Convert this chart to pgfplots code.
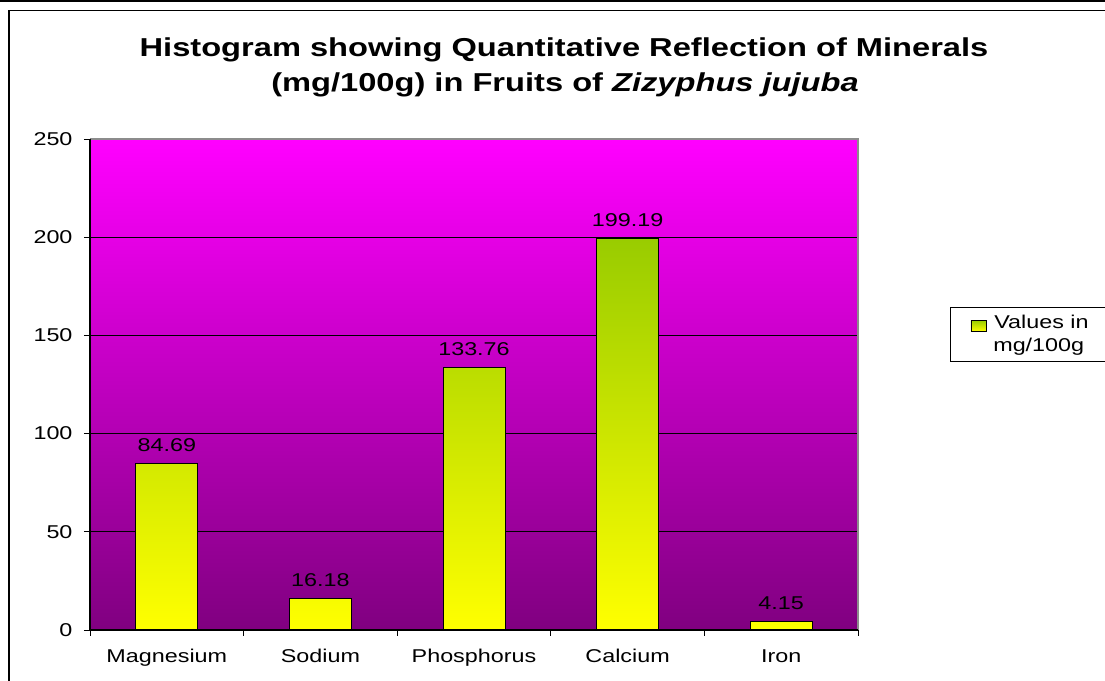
\documentclass[border=0pt]{standalone}
\usepackage{pgfplots}
\pgfplotsset{compat=1.18}
\usepackage{fontspec}
\setmainfont{Liberation Sans}[FakeStretch=1.26]
\definecolor{bgtop}{RGB}{255,0,255}
\definecolor{bgbot}{RGB}{128,0,128}
\definecolor{bargreen}{RGB}{153,204,0}
\definecolor{baryellow}{RGB}{255,255,0}
\definecolor{edgegray}{RGB}{140,140,140}
\begin{document}
\begin{tikzpicture}[x=1bp,y=1bp]
\useasboundingbox (0,0) rectangle (1105,681);
\begin{axis}[
  at={(90bp,51bp)}, anchor=south west,
  width=768bp, height=491bp, scale only axis,
  xmin=-0.5, xmax=4.5, ymin=0, ymax=250,
  clip=false,
  ybar, bar width=62bp,
  ytick={0,50,...,250},
  xtick={0,1,2,3,4},
  xticklabels={Magnesium,Sodium,Phosphorus,Calcium,Iron},
  minor xtick={-0.5,0.5,...,4.5},
  major x tick style={draw=none},
  tick align=outside,
  major tick length=6bp, minor tick length=6bp,
  every tick/.style={black, line width=0.9bp},
  tick pos=left,
  axis line style={draw=none},
  ymajorgrids=true,
  grid style={black, line width=0.8bp},
  axis background/.style={top color=bgtop, bottom color=bgbot},
  yticklabel style={font=\fontsize{18.6}{22}\selectfont},
  yticklabel shift=8bp,
  xticklabel style={font=\fontsize{18.6}{22}\selectfont, yshift=-10bp},
  /pgf/number format/assume math mode=true,
  nodes near coords,
  nodes near coords style={font=\fontsize{18.6}{22}\selectfont, anchor=base, yshift=12bp,
    /pgf/number format/.cd, fixed, precision=2, fixed zerofill, assume math mode=true},
  legend style={at={(1.1198,0.6578)}, anchor=north west, draw=black, line width=1bp,
    cells={align=left}, font=\fontsize{18.6}{23}\selectfont, inner xsep=20bp, inner ysep=6bp},
  legend image code/.code={\draw[#1, line width=0.8bp] (3bp,3bp) rectangle (18bp,14bp);},
]
\addplot[draw=black, line width=0.8bp, top color=bargreen, bottom color=baryellow]
  coordinates {(0,84.69) (1,16.18) (2,133.76) (3,199.19) (4,4.15)};
\addlegendentry{\hspace{6bp}Values in\hspace{12bp}\\\hspace{5bp}mg/100g}
\draw[edgegray, line width=1.2bp] (rel axis cs:0,1) -- (rel axis cs:1,1) -- (rel axis cs:1,0);
\draw[black, line width=1.2bp] (rel axis cs:0,1) -- (rel axis cs:0,0) -- (rel axis cs:1,0);
\end{axis}
\node[anchor=base, font=\fontsize{26}{30}\selectfont\bfseries] at (564,624) {Histogram showing Quantitative Reflection of Minerals};
\node[anchor=base, font=\fontsize{26}{30}\selectfont\bfseries] at (565,589) {(mg/100g) in Fruits of \textit{Zizyphus jujuba}};
\draw[black, line width=2.6bp] (0,680) -- (1105,680);
\draw[black, line width=1.2bp] (1105,670.5) -- (9,670.5) -- (9,0);
\end{tikzpicture}
\end{document}
